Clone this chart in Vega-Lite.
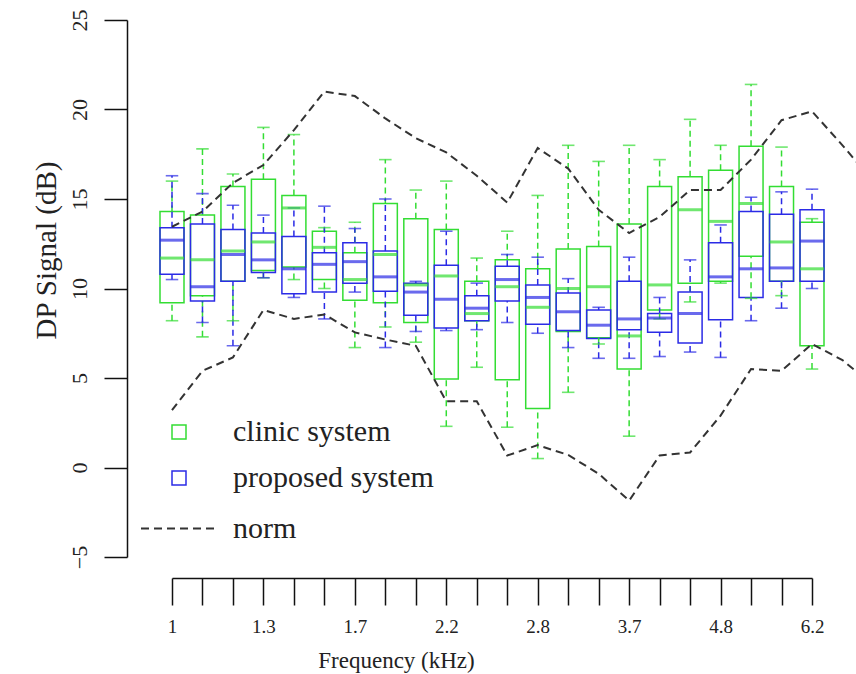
{
  "$schema": "https://vega.github.io/schema/vega-lite/v6.json",
  "width": 640,
  "height": 537,
  "autosize": {"type": "none"},
  "padding": {"left": 172, "top": 20, "right": 44, "bottom": 117},
  "config": {
    "view": {"stroke": null},
    "font": "Liberation Serif",
    "axis": {"domainColor": "#111", "domainWidth": 1.5, "tickColor": "#111", "tickWidth": 1.5, "grid": false, "labelFont": "Liberation Serif", "titleFont": "Liberation Serif", "labelColor": "#222", "titleColor": "#222", "titleFontWeight": "normal", "labelFlush": false, "labelOverlap": false},
    "axisX": {"offset": 21, "tickSize": 27, "labelFontSize": 19, "labelPadding": 12, "titleFontSize": 23, "titleX": 224, "titleY": 89, "titleAlign": "center", "titleBaseline": "alphabetic"}
  },
  "datasets": {
    "boxes": [
      {"freq": 1, "system": "clinic system", "lo": 8.2, "q1": 9.2, "med": 11.7, "q3": 14.3, "hi": 16.0},
      {"freq": 1.0905, "system": "clinic system", "lo": 7.3, "q1": 9.6, "med": 11.6, "q3": 14.1, "hi": 17.8},
      {"freq": 1.1892, "system": "clinic system", "lo": 8.2, "q1": 10.4, "med": 12.1, "q3": 15.7, "hi": 16.4},
      {"freq": 1.2968, "system": "clinic system", "lo": 10.6, "q1": 11.0, "med": 12.6, "q3": 16.1, "hi": 19.0},
      {"freq": 1.4142, "system": "clinic system", "lo": 10.5, "q1": 11.2, "med": 14.5, "q3": 15.2, "hi": 18.6},
      {"freq": 1.5422, "system": "clinic system", "lo": 10.0, "q1": 10.5, "med": 12.3, "q3": 13.2, "hi": 13.4},
      {"freq": 1.6818, "system": "clinic system", "lo": 6.7, "q1": 9.35, "med": 10.5, "q3": 12.0, "hi": 13.7},
      {"freq": 1.834, "system": "clinic system", "lo": 7.85, "q1": 9.2, "med": 11.9, "q3": 14.75, "hi": 17.2},
      {"freq": 2, "system": "clinic system", "lo": 7.0, "q1": 8.1, "med": 10.2, "q3": 13.9, "hi": 15.5},
      {"freq": 2.181, "system": "clinic system", "lo": 2.3, "q1": 4.95, "med": 10.7, "q3": 13.3, "hi": 16.0},
      {"freq": 2.3784, "system": "clinic system", "lo": 5.6, "q1": 8.2, "med": 8.6, "q3": 10.4, "hi": 11.7},
      {"freq": 2.5937, "system": "clinic system", "lo": 2.25, "q1": 4.9, "med": 10.1, "q3": 11.6, "hi": 13.2},
      {"freq": 2.8284, "system": "clinic system", "lo": 0.5, "q1": 3.3, "med": 8.95, "q3": 11.1, "hi": 15.2},
      {"freq": 3.0844, "system": "clinic system", "lo": 4.2, "q1": 7.6, "med": 10.0, "q3": 12.2, "hi": 18.0},
      {"freq": 3.3636, "system": "clinic system", "lo": 6.9, "q1": 7.25, "med": 10.1, "q3": 12.35, "hi": 17.1},
      {"freq": 3.668, "system": "clinic system", "lo": 1.75, "q1": 5.5, "med": 7.35, "q3": 13.6, "hi": 18.0},
      {"freq": 4, "system": "clinic system", "lo": 8.3, "q1": 8.8, "med": 10.2, "q3": 15.7, "hi": 17.2},
      {"freq": 4.362, "system": "clinic system", "lo": 9.25, "q1": 10.3, "med": 14.4, "q3": 16.25, "hi": 19.45},
      {"freq": 4.7568, "system": "clinic system", "lo": 10.3, "q1": 10.4, "med": 13.75, "q3": 16.6, "hi": 18.0},
      {"freq": 5.1874, "system": "clinic system", "lo": 9.45, "q1": 11.8, "med": 14.75, "q3": 17.95, "hi": 21.4},
      {"freq": 5.6569, "system": "clinic system", "lo": 9.6, "q1": 10.4, "med": 12.6, "q3": 15.7, "hi": 17.9},
      {"freq": 6.1688, "system": "clinic system", "lo": 5.5, "q1": 6.8, "med": 11.1, "q3": 13.7, "hi": 13.9},
      {"freq": 1, "system": "proposed system", "lo": 10.5, "q1": 10.8, "med": 12.7, "q3": 13.4, "hi": 16.3},
      {"freq": 1.0905, "system": "proposed system", "lo": 8.1, "q1": 9.3, "med": 10.1, "q3": 13.6, "hi": 15.3},
      {"freq": 1.1892, "system": "proposed system", "lo": 6.8, "q1": 10.4, "med": 11.9, "q3": 13.3, "hi": 14.65},
      {"freq": 1.2968, "system": "proposed system", "lo": 10.6, "q1": 10.9, "med": 11.6, "q3": 13.1, "hi": 14.1},
      {"freq": 1.4142, "system": "proposed system", "lo": 9.5, "q1": 9.7, "med": 11.1, "q3": 12.9, "hi": 14.5},
      {"freq": 1.5422, "system": "proposed system", "lo": 8.3, "q1": 9.8, "med": 11.35, "q3": 12.0, "hi": 14.6},
      {"freq": 1.6818, "system": "proposed system", "lo": 9.8, "q1": 10.3, "med": 11.5, "q3": 12.55, "hi": 13.35},
      {"freq": 1.834, "system": "proposed system", "lo": 6.7, "q1": 9.85, "med": 10.65, "q3": 12.1, "hi": 15.0},
      {"freq": 2, "system": "proposed system", "lo": 7.6, "q1": 8.5, "med": 9.8, "q3": 10.3, "hi": 10.4},
      {"freq": 2.181, "system": "proposed system", "lo": 7.65, "q1": 7.8, "med": 9.4, "q3": 11.3, "hi": 13.2},
      {"freq": 2.3784, "system": "proposed system", "lo": 7.7, "q1": 8.2, "med": 8.9, "q3": 9.6, "hi": 10.3},
      {"freq": 2.5937, "system": "proposed system", "lo": 8.1, "q1": 9.3, "med": 10.5, "q3": 11.25, "hi": 11.9},
      {"freq": 2.8284, "system": "proposed system", "lo": 7.5, "q1": 8.0, "med": 9.5, "q3": 10.2, "hi": 11.75},
      {"freq": 3.0844, "system": "proposed system", "lo": 6.7, "q1": 7.65, "med": 8.7, "q3": 9.75, "hi": 10.55},
      {"freq": 3.3636, "system": "proposed system", "lo": 6.1, "q1": 7.2, "med": 7.95, "q3": 8.8, "hi": 8.95},
      {"freq": 3.668, "system": "proposed system", "lo": 6.1, "q1": 7.7, "med": 8.3, "q3": 10.4, "hi": 11.75},
      {"freq": 4, "system": "proposed system", "lo": 6.2, "q1": 7.55, "med": 8.35, "q3": 8.6, "hi": 9.5},
      {"freq": 4.362, "system": "proposed system", "lo": 6.45, "q1": 6.95, "med": 8.6, "q3": 9.8, "hi": 11.6},
      {"freq": 4.7568, "system": "proposed system", "lo": 6.15, "q1": 8.25, "med": 10.65, "q3": 12.55, "hi": 13.55},
      {"freq": 5.1874, "system": "proposed system", "lo": 8.2, "q1": 9.5, "med": 11.1, "q3": 14.3, "hi": 15.1},
      {"freq": 5.6569, "system": "proposed system", "lo": 8.9, "q1": 10.4, "med": 11.15, "q3": 14.15, "hi": 15.4},
      {"freq": 6.1688, "system": "proposed system", "lo": 10.0, "q1": 10.4, "med": 12.65, "q3": 14.4, "hi": 15.55}
    ],
    "norm": [
      {"freq": 1, "bound": "upper", "value": 13.45},
      {"freq": 1.0905, "bound": "upper", "value": 14.3},
      {"freq": 1.1892, "bound": "upper", "value": 15.9},
      {"freq": 1.2968, "bound": "upper", "value": 16.9},
      {"freq": 1.4142, "bound": "upper", "value": 18.85},
      {"freq": 1.5422, "bound": "upper", "value": 21.0},
      {"freq": 1.6818, "bound": "upper", "value": 20.75},
      {"freq": 1.834, "bound": "upper", "value": 19.5},
      {"freq": 2, "bound": "upper", "value": 18.4},
      {"freq": 2.181, "bound": "upper", "value": 17.6},
      {"freq": 2.3784, "bound": "upper", "value": 16.3},
      {"freq": 2.5937, "bound": "upper", "value": 14.8},
      {"freq": 2.8284, "bound": "upper", "value": 17.85},
      {"freq": 3.0844, "bound": "upper", "value": 16.7},
      {"freq": 3.3636, "bound": "upper", "value": 14.4},
      {"freq": 3.668, "bound": "upper", "value": 13.1},
      {"freq": 4, "bound": "upper", "value": 14.0},
      {"freq": 4.362, "bound": "upper", "value": 15.5},
      {"freq": 4.7568, "bound": "upper", "value": 15.5},
      {"freq": 5.1874, "bound": "upper", "value": 17.2},
      {"freq": 5.6569, "bound": "upper", "value": 19.4},
      {"freq": 6.1688, "bound": "upper", "value": 19.9},
      {"freq": 6.7272, "bound": "upper", "value": 18.0},
      {"freq": 7.336, "bound": "upper", "value": 16.0},
      {"freq": 1, "bound": "lower", "value": 3.2},
      {"freq": 1.0905, "bound": "lower", "value": 5.4},
      {"freq": 1.1892, "bound": "lower", "value": 6.15},
      {"freq": 1.2968, "bound": "lower", "value": 8.8},
      {"freq": 1.4142, "bound": "lower", "value": 8.3},
      {"freq": 1.5422, "bound": "lower", "value": 8.55},
      {"freq": 1.6818, "bound": "lower", "value": 7.55},
      {"freq": 1.834, "bound": "lower", "value": 7.15},
      {"freq": 2, "bound": "lower", "value": 6.8},
      {"freq": 2.181, "bound": "lower", "value": 3.7},
      {"freq": 2.3784, "bound": "lower", "value": 3.7},
      {"freq": 2.5937, "bound": "lower", "value": 0.67},
      {"freq": 2.8284, "bound": "lower", "value": 1.25},
      {"freq": 3.0844, "bound": "lower", "value": 0.7},
      {"freq": 3.3636, "bound": "lower", "value": -0.35},
      {"freq": 3.668, "bound": "lower", "value": -1.85},
      {"freq": 4, "bound": "lower", "value": 0.67},
      {"freq": 4.362, "bound": "lower", "value": 0.84},
      {"freq": 4.7568, "bound": "lower", "value": 2.9},
      {"freq": 5.1874, "bound": "lower", "value": 5.5},
      {"freq": 5.6569, "bound": "lower", "value": 5.4},
      {"freq": 6.1688, "bound": "lower", "value": 6.9},
      {"freq": 6.7272, "bound": "lower", "value": 6.0},
      {"freq": 7.336, "bound": "lower", "value": 4.6}
    ]
  },
  "encoding": {
    "x": {
      "field": "freq",
      "type": "quantitative",
      "scale": {"type": "log", "domain": [1, 6.1688], "nice": false, "padding": 0},
      "axis": {
        "values": [1, 1.0905, 1.1892, 1.2968, 1.4142, 1.5422, 1.6818, 1.834, 2, 2.181, 2.3784, 2.5937, 2.8284, 3.0844, 3.3636, 3.668, 4, 4.362, 4.7568, 5.1874, 5.6569, 6.1688],
        "labelExpr": "round(log(datum.value)/log(2)*8) % 3 == 0 ? format(datum.value, '.2~r') : ''",
        "title": "Frequency (kHz)"
      }
    }
  },
  "layer": [
    {
      "data": {"name": "boxes"},
      "encoding": {
        "color": {
          "field": "system",
          "type": "nominal",
          "scale": {"domain": ["clinic system", "proposed system"], "range": ["#33dd33", "#2b2be6"]},
          "legend": {
            "orient": "none", "legendX": -8, "legendY": 397, "direction": "vertical",
            "symbolType": "square", "symbolSize": 196, "symbolStrokeWidth": 1.5, "symbolFillColor": "transparent",
            "labelFontSize": 30, "labelFont": "Liberation Serif", "labelColor": "#222", "labelOffset": 39, "labelLimit": 500,
            "rowPadding": 16, "title": null, "padding": 0
          }
        }
      },
      "layer": [
        {
          "mark": {"type": "bar", "filled": false, "size": 24, "strokeWidth": 1.5},
          "encoding": {
            "y": {"field": "q1", "type": "quantitative", "scale": {"domain": [-5, 25], "nice": false, "zero": false}, "title": "DP Signal (dB)",
              "axis": {"offset": 45, "tickSize": 23, "values": [-5, 0, 5, 10, 15, 20, 25], "labelAngle": -90, "labelFontSize": 22, "labelPadding": 13, "titleFontSize": 29, "titleX": -72, "titleY": 230, "titleAlign": "center", "titleAngle": -90, "titleBaseline": "alphabetic"}},
            "y2": {"field": "q3"}
          }
        },
        {
          "mark": {"type": "rule", "strokeDash": [6, 4], "strokeWidth": 1.5},
          "encoding": {
            "y": {"field": "lo", "type": "quantitative"},
            "y2": {"field": "q1"}
          }
        },
        {
          "mark": {"type": "rule", "strokeDash": [6, 4], "strokeWidth": 1.5},
          "encoding": {
            "y": {"field": "q3", "type": "quantitative"},
            "y2": {"field": "hi"}
          }
        },
        {
          "mark": {"type": "tick", "filled": false, "orient": "horizontal", "size": 11, "thickness": 0.1, "strokeWidth": 1.5},
          "encoding": {
            "y": {"field": "lo", "type": "quantitative"}
          }
        },
        {
          "mark": {"type": "tick", "filled": false, "orient": "horizontal", "size": 11, "thickness": 0.1, "strokeWidth": 1.5},
          "encoding": {
            "y": {"field": "hi", "type": "quantitative"}
          }
        },
        {
          "mark": {"type": "tick", "filled": false, "orient": "horizontal", "size": 22, "thickness": 1, "strokeWidth": 2},
          "encoding": {
            "y": {"field": "med", "type": "quantitative"}
          }
        }
      ]
    },
    {
      "data": {"name": "norm"},
      "mark": {"type": "line", "strokeWidth": 2, "color": "#333", "clip": false},
      "encoding": {
        "y": {"field": "value", "type": "quantitative"},
        "detail": {"field": "bound"},
        "strokeDash": {
          "datum": "norm",
          "type": "nominal",
          "scale": {"range": [[8, 5]]},
          "legend": {"orient": "none", "legendX": -32, "legendY": 470, "symbolType": "stroke", "symbolSize": 5625, "symbolStrokeWidth": 2, "symbolStrokeColor": "#333", "labelFontSize": 30, "labelFont": "Liberation Serif", "labelColor": "#222", "labelOffset": 16, "title": null, "padding": 0}
        }
      }
    }
  ]
}
